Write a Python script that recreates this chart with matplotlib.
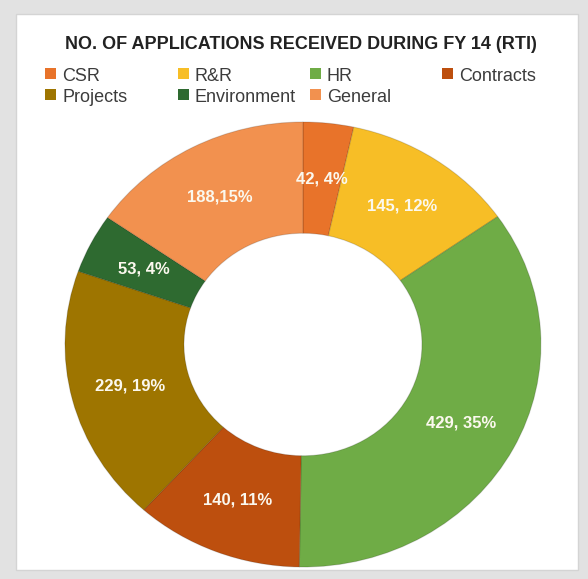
import numpy as np
import matplotlib
matplotlib.use("Agg")
import matplotlib.pyplot as plt
from matplotlib.patches import Rectangle

categories = ["CSR", "R&R", "HR", "Contracts", "Projects", "Environment", "General"]
counts = [42, 145, 429, 140, 229, 53, 188]
percents = [4, 12, 35, 11, 19, 4, 15]
colors = ["#E8732A", "#F7BE26", "#6FAC46", "#BD4F0E", "#9E7500", "#2E6A30", "#F2914F"]

plt.rcParams["font.family"] = ["Liberation Sans", "DejaVu Sans"]

fig = plt.figure(figsize=(5.88, 5.79), dpi=100, facecolor="#e2e2e2")

# white card behind the chart
fig.patches.append(Rectangle((0.027, 0.016), 0.956, 0.96, transform=fig.transFigure,
                             facecolor="white", edgecolor="#d4d4d4", linewidth=1, zorder=-5))

fig.text(0.512, 0.923, "NO. OF APPLICATIONS RECEIVED DURING FY 14 (RTI)",
         ha="center", va="center", fontsize=13, fontweight="bold", color="#222222")

# legend laid out in rows of four
for i, (name, col) in enumerate(zip(categories, colors)):
    r, c = divmod(i, 4)
    x = 0.077 + c * 0.225
    y = 0.872 - r * 0.036
    fig.patches.append(Rectangle((x, y - 0.009), 0.019, 0.019, transform=fig.transFigure,
                                 facecolor=col, edgecolor="none"))
    fig.text(x + 0.029, y - 0.004, name, ha="left", va="center", fontsize=13, color="#3c3c3c")

# ring is slightly wider than tall, so the axes keep an auto aspect
ax = fig.add_axes([0.1105, 0.0207, 0.8095, 0.7686])
labels = [f"{n}, {p}%" for n, p in zip(counts, percents)]
labels[6] = f"{counts[6]},{percents[6]}%"
wedges, texts = ax.pie(counts, colors=colors, startangle=90, counterclock=False,
                       radius=1.0,
                       wedgeprops=dict(width=0.5, linewidth=0.8, edgecolor=(0, 0, 0, 0.15)))
ax.set_xlim(-1, 1)
ax.set_ylim(-1, 1)
ax.set_aspect("auto")
ax.axis("off")

for w, lab in zip(wedges, labels):
    ang = np.deg2rad((w.theta1 + w.theta2) / 2)
    ax.text(0.75 * np.cos(ang), 0.75 * np.sin(ang), lab, ha="center", va="center",
            fontsize=12, fontweight="bold", color="#fbf8ee")

fig.savefig("out.png", dpi=100, facecolor=fig.get_facecolor())
